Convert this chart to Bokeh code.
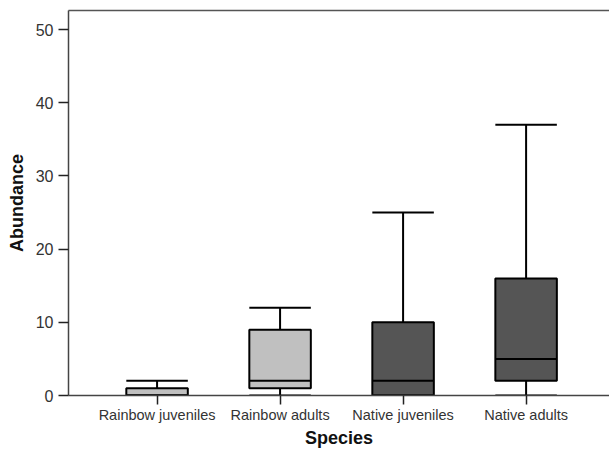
from bokeh.plotting import figure
from bokeh.models import Range1d, FixedTicker, LinearAxis, ColumnDataSource
from bokeh.embed import file_html
from bokeh.resources import INLINE

categories = ["Rainbow juveniles", "Rainbow adults", "Native juveniles", "Native adults"]
lower = [0, 0, 0, 0]
q1 = [0, 1, 0, 2]
median = [0, 2, 2, 5]
q3 = [1, 9, 10, 16]
upper = [2, 12, 25, 37]
fills = ["#c0c0c0", "#c0c0c0", "#555555", "#555555"]
y_ticks = [0, 10, 20, 30, 40, 50]

xs = list(range(1, len(categories) + 1))
bw = 0.5
src = ColumnDataSource(dict(x=xs, lower=lower, q1=q1, median=median, q3=q3, upper=upper,
                            fill=fills,
                            x0=[x - bw / 2 for x in xs], x1=[x + bw / 2 for x in xs]))

p = figure(width=609, height=450, output_backend="svg", toolbar_location=None,
           x_range=Range1d(0.28, 4.678), y_range=Range1d(0, 52.6),
           min_border_left=68, min_border_right=0, min_border_top=10, min_border_bottom=54)
p.outline_line_color = None
p.xgrid.visible = False
p.ygrid.visible = False

# whiskers
p.segment(x0="x", y0="q3", x1="x", y1="upper", source=src, line_color="black", line_width=2)
p.segment(x0="x", y0="lower", x1="x", y1="q1", source=src, line_color="black", line_width=2)
# boxes
p.vbar(x="x", width=bw, bottom="q1", top="q3", source=src, fill_color="fill",
       line_color="black", line_width=2)
# medians
p.segment(x0="x0", y0="median", x1="x1", y1="median", source=src, line_color="black", line_width=2)
# caps
p.segment(x0="x0", y0="upper", x1="x1", y1="upper", source=src, line_color="black", line_width=2)
p.segment(x0="x0", y0="lower", x1="x1", y1="lower", source=src, line_color="black", line_width=2)

font = "Liberation Sans"
xa = p.xaxis[0]
xa.ticker = FixedTicker(ticks=xs)
xa.major_label_overrides = {x: c for x, c in zip(xs, categories)}
xa.minor_tick_line_color = None
xa.major_tick_out = 9
xa.major_tick_in = 0
xa.major_label_standoff = 2
xa.axis_label = "Species"
xa.axis_label_text_font = font
xa.axis_label_text_font_style = "bold"
xa.axis_label_text_font_size = "18px"
xa.axis_label_text_color = "#111111"
xa.axis_label_standoff = 2
xa.major_label_text_font = font
xa.major_label_text_font_size = "14.5px"
xa.major_label_text_color = "#333333"
xa.axis_line_color = "#444444"
xa.axis_line_width = 1.5
xa.major_tick_line_color = "#222222"
xa.major_tick_line_width = 1.5

ya = p.yaxis[0]
ya.ticker = FixedTicker(ticks=y_ticks)
ya.minor_tick_line_color = None
ya.major_tick_out = 10
ya.major_tick_in = 0
ya.major_label_standoff = 5
ya.axis_label = "Abundance"
ya.axis_label_text_font = font
ya.axis_label_text_font_style = "bold"
ya.axis_label_text_font_size = "18px"
ya.axis_label_text_color = "#111111"
ya.axis_label_standoff = 6
ya.major_label_text_font = font
ya.major_label_text_font_size = "16px"
ya.major_label_text_color = "#333333"
ya.axis_line_color = "#444444"
ya.axis_line_width = 1.5
ya.major_tick_line_color = "#222222"
ya.major_tick_line_width = 1.5

top = LinearAxis(ticker=FixedTicker(ticks=[]), major_tick_line_color=None,
                 minor_tick_line_color=None, axis_line_color="#555555", axis_line_width=1.5)
p.add_layout(top, "above")

open("out.html", "w").write(file_html(p, INLINE))
